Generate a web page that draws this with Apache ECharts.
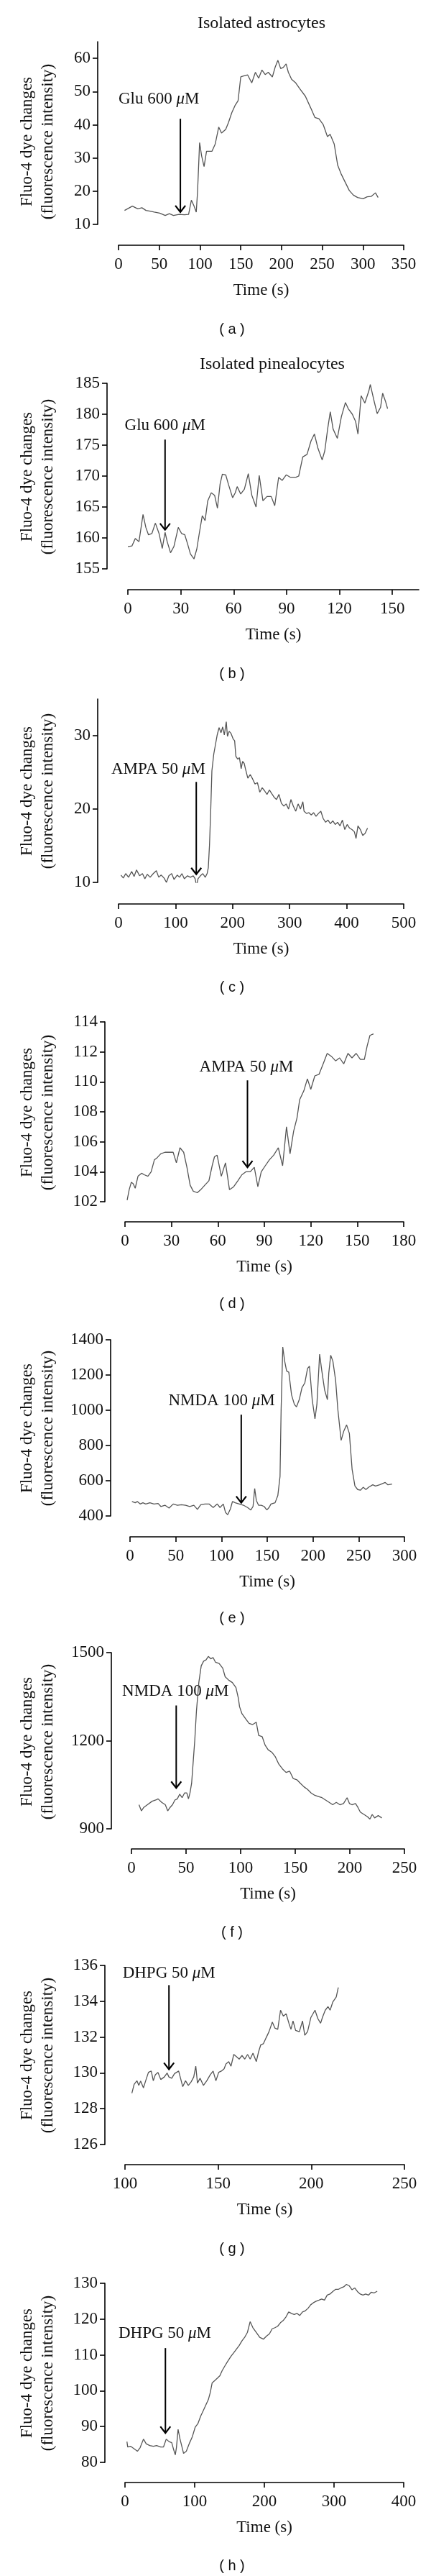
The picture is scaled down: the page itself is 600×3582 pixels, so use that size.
<!DOCTYPE html>
<html><head><meta charset="utf-8">
<script src="https://cdn.jsdelivr.net/npm/echarts@6/dist/echarts.min.js"></script>
<style>html,body{margin:0;padding:0;background:#fff}#c{width:600px;height:3582px}</style>
</head><body><div id="c"></div>
<script>
// ---------- data (time s, fluorescence) ----------
const traceA = [[7.4,14.2],[17,15.5],[23.6,14.7],[28.7,15],[33.7,14.2],[38.8,14],[43.8,13.7],[50.6,13.4],[57.3,12.7],[62.4,13.2],[67.4,12.7],[74.2,13],[80.9,12.9],[86,13],[89.4,17.3],[92.7,15.5],[95.4,13.7],[97,19.9],[99.5,34.6],[102,30.6],[105,27.4],[108,32],[111,32],[114.6,32],[118.7,34.2],[123,39.3],[126.4,37.5],[131.5,38.6],[135,40.7],[139,43.6],[143,45.8],[146.7,47.2],[148,50],[150,54.4],[153.4,54.7],[158.5,55],[163.5,52.6],[168,55.8],[172,54],[176,56.5],[180,55.1],[183.8,55.8],[188.8,54.4],[192.2,57.3],[195.6,59.4],[199,56.9],[202.3,57.3],[205.7,58.3],[208.4,55.8],[212.4,53.7],[217.5,52.6],[222.6,50.8],[229.3,48.6],[236,45],[241,42.2],[246,41.8],[251.3,40],[256.4,36.4],[259.7,37.1],[264.7,34.2],[269,27.8],[273,25.3],[278.2,22.7],[283.2,20.2],[288.3,18.8],[293.4,18.1],[300.1,17.7],[305.2,18.3],[310,18.4],[315.3,19.5],[318.6,18.1]];
const traceB = [[0,158.6],[2.3,158.7],[4.2,159.9],[6.3,159.4],[8.6,163.8],[10.2,161.7],[11.7,160.5],[13.6,160.7],[15.6,162.4],[17.7,160.7],[19.5,158.3],[21.1,160.9],[22.3,159.4],[24.2,157.6],[26.1,158.6],[28.6,161.7],[30.5,160.7],[32.3,160.5],[33.9,159],[35.5,157.4],[37.5,156.6],[39.1,158.2],[40.6,160.9],[42.2,163.6],[43.8,162.8],[45.3,166],[47.3,167.3],[49.2,166.9],[50.8,164.8],[52.3,168.7],[53.6,170.3],[55.5,170.2],[57,168.7],[59.4,166.5],[60.9,167.3],[62,168.3],[64,167.1],[66.1,167.9],[68.3,170.4],[70.3,166.9],[72.7,165],[74.5,170.1],[76.6,166],[78.9,166.7],[81.3,166.7],[83.3,165.2],[85.5,169.8],[87.5,169.3],[89.8,170.2],[92.2,169.8],[95.3,169.8],[96.9,170],[99.2,173.1],[101.6,173.5],[103.9,175.7],[105.8,176.8],[107.8,174.5],[110.2,172.6],[111.7,174.1],[113.3,177.6],[114.8,180.4],[116.4,177.6],[118.8,176.1],[121.1,179.6],[123.4,181.9],[125,180.9],[127.3,180],[129.2,178.8],[130.5,176.8],[132.3,183],[134.4,181.8],[136.7,183.8],[137.5,184.8],[139.5,182.3],[141.4,180.1],[143.3,181.1],[144.5,183.4],[146.1,182.1],[147.3,180.9]];
const traceC = [[4.2,11.0],[8.4,10.6],[12.6,11.2],[17.6,10.7],[23.1,11.5],[27.3,10.8],[31.5,11.7],[36.9,10.9],[42,11.2],[46.2,10.5],[50.4,11.1],[55.4,10.7],[60.9,11.2],[66.3,11.6],[70.5,10.7],[74.7,11.0],[79.8,10.6],[84,10.0],[88.2,10.9],[93.2,11.2],[97.4,10.4],[102.9,11.0],[107,10.7],[111.2,11.2],[115.4,10.5],[120.9,10.9],[125.9,10.7],[131,10.9],[134.3,10.5],[136.9,9.5],[139.4,10.5],[143.6,10.9],[147.8,11.2],[152,10.7],[155.3,11.2],[157.4,12.0],[159.5,15.1],[161.6,19.7],[163.7,25.2],[167,27.5],[170,28.8],[173,30.1],[176.3,31.1],[179.7,30.4],[182.6,31.2],[185.5,30.1],[188.9,31.9],[191,29.9],[194,30.6],[197.3,30.3],[200.7,29.6],[203.6,29.3],[205.7,27.2],[209,26.8],[212,27],[215,25.5],[217.5,26.5],[220.4,26.2],[222.5,25.5],[226.7,24.2],[230.9,24.7],[235.1,24.1],[239.3,23.4],[243.5,23.6],[247.7,22.3],[251.9,22.9],[256,22.5],[260.3,22],[264.5,22.6],[268.7,22.1],[272.9,21.6],[277,21.3],[281.3,22],[285.5,20.8],[289.7,20.4],[293.9,20.7],[298.1,20],[302.3,21.3],[306.5,20.4],[310.7,19.7],[314.9,20.7],[319,20],[323.2,21],[325.3,19.7],[329.5,19.4],[333.7,19.5],[337.9,19.2],[342.1,19.5],[346.3,19.0],[350.5,19.4],[354.7,19.7],[358.9,18.7],[363.1,18.2],[367.3,18.5],[371.5,18.0],[375.7,18.4],[379.9,17.9],[384.1,18.2],[388.3,17.7],[392.5,18.5],[396.7,17.2],[400.9,17.9],[405.1,17.4],[409.3,17.2],[413.5,16.9],[416.4,16.0],[419.8,17.7],[424,17.2],[428.2,16.4],[432.4,16.7],[436.6,17.4]];
const traceD = [[1.4,102.1],[2.7,102.8],[4.1,103.3],[5.3,103.2],[6.6,102.9],[8.4,103.7],[10.7,103.9],[12.4,103.8],[14.8,103.7],[16.9,104],[19,104.8],[20.4,104.9],[23.1,105.2],[25.8,105.3],[28.4,105.3],[31.1,105.3],[33.2,104.6],[35.5,105.6],[37.9,105.3],[40,104.3],[42.1,103.1],[44.1,102.7],[46.7,102.6],[48.9,102.8],[51.5,103.1],[54.2,103.4],[56.3,104.4],[57.8,105],[59.5,105.1],[62.2,103.7],[64.9,104.6],[67.5,102.8],[70.2,103],[72.9,103.4],[75.5,103.8],[78.2,104],[80.9,104],[83.5,104.3],[85.8,103],[88,104],[90.6,104.4],[93.3,104.8],[96,105.1],[99,105.6],[101.8,104.4],[104.3,107],[106.6,105.2],[108.9,106.7],[111.1,107.6],[112.8,108.8],[115.5,109.4],[117.8,110.2],[120,109.5],[122.6,110.4],[125.3,110.5],[128,111.2],[130.6,111.9],[133.3,111.7],[136,111.4],[138.6,111.6],[141.3,111.2],[144,111.9],[146.6,111.6],[149.3,111.9],[152,111.5],[154.6,111.5],[156.4,112.4],[158.2,113.1],[160.5,113.2]];
const traceE = [[2.1,482],[5.7,475],[8.1,482],[11.1,468],[14.1,475],[17.2,468],[21.7,475],[26.2,468],[30.7,471],[33.7,454],[38.2,461],[42.7,445],[47.2,468],[51.8,461],[56.3,464],[60.8,461],[65.3,454],[69.8,461],[73.7,437],[77.3,464],[81.9,468],[86.4,468],[90.9,448],[95.4,468],[98.4,448],[102,468],[104.4,420],[106.8,407],[109.8,441],[112,482],[115,475],[119.5,468],[124,461],[128.5,448],[132.1,434],[134.5,454],[136.3,556],[138.1,488],[140.5,461],[143.5,461],[146.6,454],[149.6,434],[152,448],[154.1,468],[158.6,475],[161.6,516],[164,624],[165.2,1005],[167,1359],[169.1,1278],[171.2,1223],[173.6,1216],[176.6,1087],[179.7,1033],[182,1019],[185,1060],[188,1128],[191.1,1155],[194.1,1237],[196.2,1250],[199.2,1060],[202.2,951],[204.3,1033],[207.3,1318],[209.7,1223],[212.8,1114],[215.8,1060],[217.3,1210],[219.4,1312],[221.8,1278],[224.8,1169],[227.2,1005],[230.8,829],[233.8,883],[236.8,917],[239.8,869],[242.8,665],[245.9,570],[248.9,550],[251.9,546],[254.9,563],[257.9,550],[260.9,563],[265.4,577],[268.4,570],[272.9,577],[279,590],[282,577],[286.5,581]];
const traceF = [[6.9,982],[9.1,961],[11.3,973],[14.6,982],[19,994],[22.3,998],[24.4,1002],[27.7,990],[31,982],[33.2,961],[35.4,973],[37.6,982],[39.8,998],[42,1002],[44.2,1018],[46.4,1006],[48.6,1022],[50.7,1022],[52.2,1002],[53.6,1022],[55.1,1055],[56.7,1136],[58,1202],[59.5,1300],[61.7,1398],[63.9,1455],[66.1,1471],[68.3,1475],[70.4,1487],[72.6,1479],[74.8,1483],[77,1467],[80.3,1463],[83.6,1447],[85.8,1418],[89.1,1406],[92.4,1398],[95.7,1381],[97.9,1345],[99,1316],[101.2,1292],[104.5,1275],[107.7,1259],[111,1255],[114.3,1263],[116.5,1218],[119.7,1214],[122.4,1185],[125.2,1169],[128.5,1161],[131.8,1145],[135,1120],[138.3,1104],[141.6,1092],[144.9,1096],[148.2,1071],[151.5,1067],[154.7,1055],[158,1043],[161.3,1034],[164.6,1022],[167.9,1014],[171.2,1010],[174.5,1006],[177.8,998],[181.1,990],[184.3,982],[187.6,990],[190.9,982],[194.2,986],[197.5,1006],[199.7,986],[201.9,982],[205.2,986],[207.4,973],[209.6,957],[212.9,949],[216.2,941],[218.4,933],[220.5,949],[222.7,937],[226,945],[229.3,937]];
const traceG = [[103.7,128.87],[104.9,129.36],[106.4,129.56],[107.4,129.3],[108.4,129.54],[109.9,129.16],[111.1,129.56],[112.6,130.03],[114.1,130.1],[115.2,129.56],[116.3,129.9],[117.7,130.03],[119.2,129.63],[121.1,129.77],[122.6,129.99],[123.6,129.77],[125.1,129.7],[126.6,129.96],[128.8,130.1],[130,129.63],[131,129.23],[132.5,129.56],[134,129.3],[135.5,129.5],[136.9,129.77],[138,130.37],[138.9,129.43],[140.3,129.7],[142.1,129.3],[143.9,129.56],[145.8,129.9],[147.3,130.1],[148.8,129.56],[150.3,130.03],[151.7,130.1],[153.2,130.23],[154.2,130.5],[155.7,130.63],[156.9,130.37],[158.4,131.03],[159.9,130.9],[161.3,130.77],[162.8,130.97],[164.3,130.77],[165.8,131.03],[167.2,130.77],[168.7,131.1],[170.5,130.63],[171.7,131.17],[172.9,131.57],[174.3,131.63],[175.8,131.97],[177.3,132.3],[179.1,132.84],[180.5,132.5],[182,132.43],[183.5,133.5],[185,133.17],[186.5,133.3],[188,132.77],[189.1,132.43],[190.2,132.9],[191.6,132.37],[193.6,132.3],[195.3,132.9],[196.5,132.1],[198,132.3],[199.8,133.1],[202,133.5],[203.5,133.04],[205,132.77],[206,133.1],[207.5,133.5],[209,133.7],[210.1,133.5],[211.6,133.97],[213.4,134.24],[214.5,134.77]];
const traceH = [[2.8,85.8],[3.9,84.3],[7.9,84.5],[13,83.8],[17.8,83.1],[21.7,84.1],[26.5,86.5],[30.4,85.2],[35.5,84.7],[40.7,84.5],[45.4,84.7],[51.3,84.3],[55.3,84.3],[59.2,86.5],[63.2,85.8],[67.1,85.5],[69.9,83.5],[72.2,82.1],[73.8,84.1],[76.2,89.2],[79,86.5],[80.9,86.8],[84.1,82.5],[88,83.1],[92.8,85.5],[96.7,87.2],[100.7,89.8],[104.6,90.8],[108.6,92.9],[112.5,94.5],[116.5,96.2],[119.6,97.5],[122.4,99.5],[125.1,102.2],[129.1,102.9],[133,103.6],[136.2,104.2],[139.4,105.6],[143.3,106.9],[147.3,108.2],[152,109.6],[156,110.6],[159.9,111.6],[163.8,112.6],[167.8,113.9],[171.7,114.9],[175.7,116.3],[179.6,119.3],[183.6,117.6],[188.3,116.3],[193.4,114.9],[198.6,114.4],[203.3,115.3],[207.3,115.9],[211.2,117.3],[215.2,117.6],[219.1,118],[223.1,119],[227,119.6],[231,120.6],[234.9,122],[238.9,121.6],[242.8,121.3],[246.8,121.6],[250.7,121],[254.7,122],[258.6,122.3],[262.6,123],[266.5,124],[270.5,124.6],[274.4,125],[278.4,125.3],[282.3,125.6],[286.3,125.3],[290.2,126.7],[294.2,127],[298.1,127.7],[302.1,128.3],[306,128.3],[309.9,128.7],[313.9,129],[317.8,129.7],[321.8,129.3],[325.7,128.2],[329.7,128.7],[333.6,127.7],[337.6,127],[341.5,126.7],[345.4,127],[349.4,126.7],[353.3,127.5],[357.3,127.3],[362,127.8]];

// tick labels
const xTicksA = [0,50,100,150,200,250,300,350], yTicksA = [10,20,30,40,50,60];
const xTicksB = [0,30,60,90,120,150], yTicksB = [155,160,165,170,175,180,185];
const xTicksC = [0,100,200,300,400,500], yTicksC = [10,20,30];
const xTicksD = [0,30,60,90,120,150,180], yTicksD = [102,104,106,108,110,112,114];
const xTicksE = [0,50,100,150,200,250,300], yTicksE = [400,600,800,1000,1200,1400];
const xTicksF = [0,50,100,150,200,250], yTicksF = [900,1200,1500];
const xTicksG = [100,150,200,250], yTicksG = [126,128,130,132,134,136];
const xTicksH = [0,100,200,300,400], yTicksH = [80,90,100,110,120,130];

// drug annotations
const notesLabel = ['Glu 600 ','Glu 600 ','AMPA 50 ','AMPA 50 ','NMDA 100 ','NMDA 100 ','DHPG 50 ','DHPG 50 '];
const notesTime = [75.9, 21.1, 136.3, 79.1, 121.6, 41.0, 123.6, 58.0];
const notesTop = [41.8, 175.9, 23.7, 110.1, 975, 1320, 134.9, 111.9];
const notesTip = [13.7, 161.3, 11.1, 104.3, 475, 1039, 130.2, 88.2];
const notesTextTime = [49.6, 21.1, 69.8, 78.4, 100.2, 40.3, 123.6, 57.2];
const notesTextVal = [47.6, 178.2, 25.4, 111.0, 1053, 1369, 135.57, 115.9];
const panelLetters = ['( a )','( b )','( c )','( d )','( e )','( f )','( g )','( h )'];

// ---------- layout ----------
const SERIF = 'Liberation Serif';
const panels = [
 {trace:traceA, xr:[0,350], xt:xTicksA, yr:[10,65], yt:yTicksA, grid:{left:165,top:58,width:397,height:254}, xo:29, yo:29, letterY:458, yNameY:197},
 {trace:traceB, xr:[0,165], xt:xTicksB, yr:[155,185], yt:yTicksB, grid:{left:178,top:533,width:405,height:258}, xo:29, yo:29, letterY:937, yNameY:663},
 {trace:traceC, xr:[0,500], xt:xTicksC, yr:[10,35], yt:yTicksC, grid:{left:165,top:972,width:397,height:255}, xo:30, yo:29, letterY:1373, yNameY:1100},
 {trace:traceD, xr:[0,180], xt:xTicksD, yr:[102,114], yt:yTicksD, grid:{left:174,top:1421,width:388,height:250}, xo:28, yo:28, letterY:1813, yNameY:1547},
 {trace:traceE, xr:[0,300], xt:xTicksE, yr:[400,1400], yt:yTicksE, grid:{left:181,top:1863,width:382,height:245}, xo:29, yo:27, letterY:2250, yNameY:1986},
 {trace:traceF, xr:[0,250], xt:xTicksF, yr:[900,1500], yt:yTicksF, grid:{left:183,top:2298,width:380,height:245}, xo:28, yo:28, letterY:2687, yNameY:2422},
 {trace:traceG, xr:[100,250], xt:xTicksG, yr:[126,136], yt:yTicksG, grid:{left:174,top:2733,width:389,height:249}, xo:28, yo:28, letterY:3127, yNameY:2858},
 {trace:traceH, xr:[0,400], xt:xTicksH, yr:[80,130], yt:yTicksH, grid:{left:174,top:3175,width:388,height:249}, xo:28, yo:28, letterY:3568, yNameY:3300}
];

const axisLine = {show:true, onZero:false, lineStyle:{color:'#000', width:1.6}};
const labelStyle = {color:'#111', fontFamily:SERIF, fontSize:23};

const option = {
  animation:false,
  backgroundColor:'#fff',
  grid: panels.map(p => Object.assign({containLabel:false}, p.grid)),
  xAxis: panels.map((p,i) => ({
    type:'value', gridIndex:i, min:p.xr[0], max:p.xr[1], offset:p.xo,
    axisLine, splitLine:{show:false},
    axisTick:{show:true, length:7, customValues:p.xt, lineStyle:{color:'#000', width:1.6}},
    axisLabel:Object.assign({customValues:p.xt, margin:15, formatter:v=>String(v)}, labelStyle),
    name:'Time (s)', nameLocation:'middle', nameGap:51,
    nameTextStyle:{color:'#111', fontFamily:SERIF, fontSize:23}
  })),
  yAxis: panels.map((p,i) => ({
    type:'value', gridIndex:i, min:p.yr[0], max:p.yr[1], offset:p.yo,
    axisLine, splitLine:{show:false},
    axisTick:{show:true, length:7, customValues:p.yt, lineStyle:{color:'#000', width:1.6}},
    axisLabel:Object.assign({customValues:p.yt, margin:10, formatter:v=>String(v)}, labelStyle)
  })),
  series: panels.map((p,i) => ({
    type:'line', xAxisIndex:i, yAxisIndex:i, data:p.trace,
    showSymbol:false, symbol:'none',
    lineStyle:{color:'#555', width:1.3}
  }))
};

const chart = echarts.init(document.getElementById('c'), null, {renderer:'canvas'});
chart.setOption(option);

const graphics = [];
graphics.push({type:'text', x:364, y:33, style:{text:'Isolated astrocytes', fontFamily:SERIF, fontSize:24, fill:'#111', align:'center', verticalAlign:'middle'}});
graphics.push({type:'text', x:379, y:507, style:{text:'Isolated pinealocytes', fontFamily:SERIF, fontSize:24, fill:'#111', align:'center', verticalAlign:'middle'}});
panels.forEach((p,i) => {
  graphics.push({type:'text', x:323, y:p.letterY, style:{text:panelLetters[i], fontFamily:'Liberation Sans', fontSize:20, fill:'#111', align:'center', verticalAlign:'middle'}});
  graphics.push({type:'text', x:52, y:p.yNameY, rotation:Math.PI/2,
    style:{text:'Fluo-4 dye changes\n(fluorescence intensity)', fontFamily:SERIF, fontSize:23, lineHeight:29, fill:'#111', align:'center', verticalAlign:'middle'}});
  const top = chart.convertToPixel({gridIndex:i}, [notesTime[i], notesTop[i]]);
  const tip = chart.convertToPixel({gridIndex:i}, [notesTime[i], notesTip[i]]);
  const tx = chart.convertToPixel({gridIndex:i}, [notesTextTime[i], notesTextVal[i]]);
  graphics.push({type:'line', shape:{x1:top[0], y1:top[1], x2:tip[0], y2:tip[1]}, style:{stroke:'#000', lineWidth:2}});
  graphics.push({type:'polyline', shape:{points:[[tip[0]-7, tip[1]-9],[tip[0], tip[1]],[tip[0]+7, tip[1]-9]]}, style:{stroke:'#000', lineWidth:2.2, fill:null}});
  graphics.push({type:'text', x:tx[0], y:tx[1], style:{
    text:'{n|' + notesLabel[i] + '}{i|μ}{n|M}', align:'center', verticalAlign:'middle',
    rich:{n:{fontFamily:SERIF, fontSize:23, fill:'#111'}, i:{fontFamily:SERIF, fontSize:23, fontStyle:'italic', fill:'#111'}}
  }});
});
chart.setOption({graphic:{elements:graphics}});
</script>
</body></html>
